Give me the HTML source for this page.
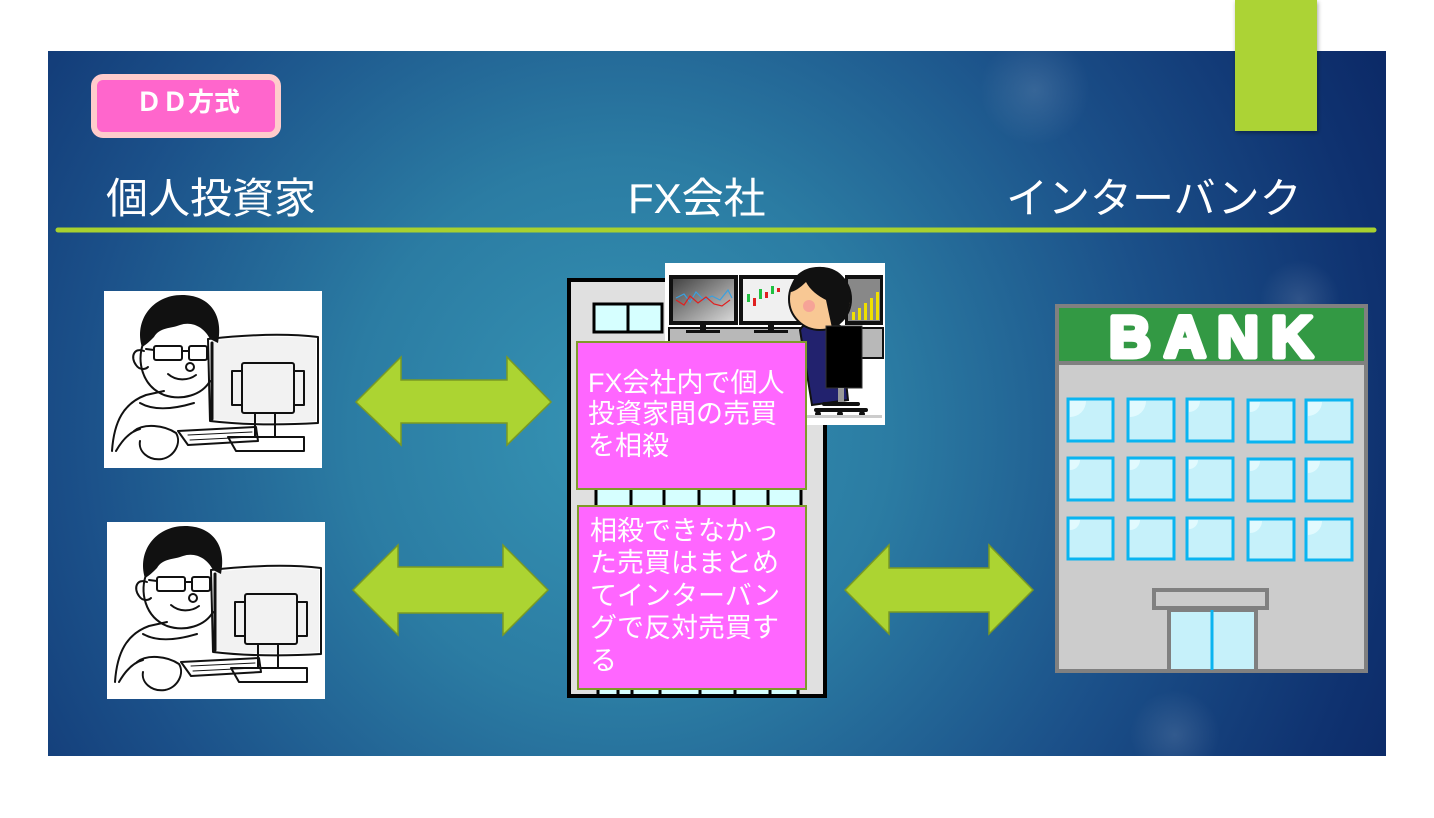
<!DOCTYPE html>
<html><head><meta charset="utf-8"><style>
html,body{margin:0;padding:0;background:#fff;}
svg{display:block;}
text{font-family:"Liberation Sans","Noto Sans CJK JP",sans-serif;}
</style></head><body>
<svg width="1434" height="818" viewBox="0 0 1434 818" xmlns="http://www.w3.org/2000/svg">
<defs>
<radialGradient id="bg" gradientUnits="userSpaceOnUse" cx="620" cy="430" r="900">
<stop offset="0" stop-color="#3694b4"/>
<stop offset="0.3" stop-color="#2b7ca3"/>
<stop offset="0.6" stop-color="#1b5089"/>
<stop offset="0.85" stop-color="#0f3270"/>
<stop offset="1" stop-color="#0a2562"/>
</radialGradient>
<radialGradient id="bok" cx="0.5" cy="0.5" r="0.5">
<stop offset="0" stop-color="#ffffff" stop-opacity="0.12"/>
<stop offset="1" stop-color="#ffffff" stop-opacity="0"/>
</radialGradient>
<linearGradient id="scr1" x1="0" y1="0" x2="1" y2="1">
<stop offset="0" stop-color="#444"/><stop offset="1" stop-color="#d8d8d8"/>
</linearGradient>
<filter id="sh" x="-20%" y="-20%" width="140%" height="140%"><feDropShadow dx="1" dy="2" stdDeviation="2" flood-opacity="0.35"/></filter>
</defs>

<!-- slide background -->
<rect x="48" y="51" width="1338" height="705" fill="url(#bg)"/>
<circle cx="1035" cy="90" r="55" fill="url(#bok)"/>
<circle cx="1175" cy="735" r="45" fill="url(#bok)"/>
<circle cx="1300" cy="300" r="40" fill="url(#bok)"/>

<!-- green tab -->
<rect x="1235" y="0" width="82" height="131" fill="#acd335" filter="url(#sh)"/>

<!-- DD label -->
<rect x="94" y="77" width="184" height="58" rx="9" fill="#ff66cc" stroke="#ffcccc" stroke-width="6"/>
<text x="188" y="111" font-size="26" font-weight="bold" fill="#fff" text-anchor="middle">ＤＤ方式</text>

<!-- headings -->
<text x="106" y="213" font-size="42" fill="#fff">個人投資家</text>
<text x="628" y="213" font-size="42" fill="#fff">FX会社</text>
<text x="1006" y="213" font-size="42" fill="#fff">インターバンク</text>
<line x1="58" y1="230" x2="1374" y2="230" stroke="#a8d12f" stroke-width="5" stroke-linecap="round"/>

<!-- arrows -->
<g fill="#acd432" stroke="#7a9a22" stroke-width="1.5" stroke-linejoin="miter">
<polygon points="356,402 401,357 401,380 507,380 507,357 551,402 507,445 507,423 401,423 401,445"/>
<polygon points="353,590 398,545 398,567 503,567 503,545 548,590 503,635 503,613 398,613 398,635"/>
<polygon points="845,590 889,545 889,568 989,568 989,545 1033,590 989,634 989,612 889,612 889,634"/>
</g>

<!-- person sketches -->
<g id="p1" transform="translate(104,291)">
<rect x="0" y="0" width="218" height="177" fill="#fff"/>
<g fill="none" stroke="#111" stroke-width="2" stroke-linecap="round" stroke-linejoin="round">
<!-- body -->
<path d="M8,160 C10,130 20,112 42,104 L60,100"/>
<path d="M36,112 C50,120 70,118 90,112"/>
<!-- face -->
<path d="M40,50 C32,70 38,95 60,104 C78,110 98,104 106,90"/>
<path d="M40,60 C30,56 26,66 32,74 C36,80 42,78 44,76"/>
<!-- glasses -->
<rect x="50" y="55" width="28" height="14" rx="2"/>
<rect x="85" y="55" width="18" height="14" rx="2"/>
<line x1="78" y1="60" x2="85" y2="60"/>
<line x1="50" y1="59" x2="42" y2="58"/>
<circle cx="86" cy="76" r="4"/>
<path d="M64,83 C72,90 84,90 92,84"/>
<!-- monitor -->
<path d="M104,48 C140,44 180,42 214,46 L214,132 C180,134 140,134 106,130 Z"/>
<path d="M108,52 L108,128" stroke-width="3"/>
<rect x="138" y="72" width="52" height="50" rx="2"/>
<rect x="128" y="80" width="10" height="34"/>
<rect x="190" y="80" width="10" height="34"/>
<rect x="151" y="122" width="20" height="24"/>
<path d="M124,146 L200,146 L200,160 L132,160 Z"/>
<!-- keyboard -->
<path d="M74,140 L152,136 L154,150 L84,154 Z"/>
<path d="M84,144 L148,141 M86,149 L148,146" stroke-width="1"/>
<!-- hand -->
<path d="M30,140 C40,132 60,134 72,142 C78,152 70,166 58,168 C44,170 34,160 36,150"/>
<path d="M12,160 C20,146 28,140 36,138"/>
</g>
<path d="M38,56 C30,30 48,4 78,4 C104,4 120,22 114,52 L106,48 C100,36 88,30 76,34 C66,38 56,36 50,46 C46,50 42,54 38,56 Z" fill="#111"/>
<path d="M108,50 C140,46 180,44 212,48 L212,130 C180,132 140,132 108,128 Z" fill="#000" opacity="0.05"/>
</g>
<use href="#p1" transform="translate(3,231)"/>

<!-- FX building -->
<rect x="569" y="280" width="256" height="416" fill="#e0e0e0" stroke="#000" stroke-width="4"/>
<rect x="594" y="304" width="68" height="28" fill="#d6ffff" stroke="#000" stroke-width="3"/>
<line x1="628" y1="304" x2="628" y2="332" stroke="#000" stroke-width="3"/>
<!-- window row between boxes -->
<rect x="596" y="486" width="206" height="22" fill="#d6ffff"/>
<g stroke="#000" stroke-width="3">
<line x1="596" y1="486" x2="596" y2="508"/><line x1="631" y1="486" x2="631" y2="508"/>
<line x1="664" y1="486" x2="664" y2="508"/><line x1="699" y1="486" x2="699" y2="508"/>
<line x1="734" y1="486" x2="734" y2="508"/><line x1="768" y1="486" x2="768" y2="508"/>
<line x1="801" y1="486" x2="801" y2="508"/>
</g>
<rect x="598" y="686" width="200" height="8" fill="#d6ffff"/>
<g stroke="#000" stroke-width="3">
<line x1="598" y1="686" x2="598" y2="694"/><line x1="618" y1="686" x2="618" y2="694"/>
<line x1="632" y1="686" x2="632" y2="694"/><line x1="660" y1="686" x2="660" y2="694"/>
<line x1="700" y1="686" x2="700" y2="694"/><line x1="735" y1="686" x2="735" y2="694"/>
<line x1="770" y1="686" x2="770" y2="694"/><line x1="798" y1="686" x2="798" y2="694"/>
</g>

<!-- trader picture -->
<rect x="665" y="263" width="220" height="162" fill="#fff"/>
<rect x="669" y="275" width="69" height="50" fill="#111"/>
<rect x="673" y="279" width="61" height="42" fill="url(#scr1)"/>
<polyline points="676,298 684,294 690,302 696,292 704,300 712,296 720,300 728,290 732,298" fill="none" stroke="#39a0e0" stroke-width="1.2"/>
<polyline points="676,300 684,305 690,296 698,303 706,297 714,304 722,306 730,300" fill="none" stroke="#e02020" stroke-width="1.2"/>
<rect x="739" y="275" width="62" height="50" fill="#111"/>
<rect x="743" y="279" width="58" height="42" fill="#f0f0f0"/>
<g stroke-width="1">
<rect x="747" y="294" width="3" height="8" fill="#20c040"/><rect x="753" y="298" width="3" height="8" fill="#e02020"/>
<rect x="759" y="289" width="3" height="10" fill="#20c040"/><rect x="765" y="292" width="3" height="6" fill="#e02020"/>
<rect x="771" y="286" width="3" height="8" fill="#20c040"/><rect x="777" y="288" width="3" height="4" fill="#e02020"/>
</g>
<rect x="845" y="275" width="38" height="50" fill="#111"/>
<rect x="848" y="279" width="32" height="42" fill="#888"/>
<g fill="#f0e000"><rect x="852" y="312" width="3" height="8"/><rect x="858" y="308" width="3" height="12"/><rect x="864" y="303" width="3" height="17"/><rect x="870" y="298" width="3" height="22"/><rect x="876" y="292" width="3" height="28"/></g>
<rect x="669" y="328" width="214" height="30" fill="#b8b8b8" stroke="#111" stroke-width="2"/>
<rect x="700" y="325" width="6" height="6" fill="#111"/><rect x="686" y="330" width="34" height="3" fill="#111"/>
<rect x="768" y="325" width="6" height="6" fill="#111"/><rect x="754" y="330" width="34" height="3" fill="#111"/>
<!-- person -->
<path d="M800,330 C805,320 825,318 840,326 L848,400 L812,405 Z" fill="#22226e" stroke="#111" stroke-width="2"/>
<circle cx="820" cy="299" r="31" fill="#f8c894" stroke="#111" stroke-width="2"/>
<path d="M790,292 C792,272 808,266 822,267 C842,268 852,284 850,302 C848,318 840,326 832,328 L826,300 C818,296 810,290 806,282 C800,288 794,292 790,292 Z" fill="#111"/>
<circle cx="809" cy="306" r="6" fill="#f58a9a" opacity="0.6"/>
<rect x="826" y="326" width="36" height="62" fill="#000" stroke="#333" stroke-width="1"/>
<rect x="838" y="388" width="6" height="16" fill="#999"/>
<path d="M816,410 L866,410 M824,404 L858,404" stroke="#111" stroke-width="4" stroke-linecap="round"/>
<circle cx="818" cy="414" r="3" fill="#111"/><circle cx="840" cy="414" r="3" fill="#111"/><circle cx="862" cy="414" r="3" fill="#111"/>
<rect x="790" y="415" width="92" height="3" fill="#ccc"/>

<!-- pink boxes -->
<rect x="577" y="342" width="229" height="147" fill="#ff66ff" stroke="#7f9a2a" stroke-width="2"/>
<g font-size="27" fill="#fff">
<text x="588" y="392">FX会社内で個人</text>
<text x="588" y="423">投資家間の売買</text>
<text x="588" y="455">を相殺</text>
</g>
<rect x="578" y="506" width="228" height="183" fill="#ff66ff" stroke="#7f9a2a" stroke-width="2"/>
<g font-size="27" fill="#fff">
<text x="590" y="540">相殺できなかっ</text>
<text x="590" y="572">た売買はまとめ</text>
<text x="590" y="605">てインターバン</text>
<text x="590" y="637">グで反対売買す</text>
<text x="590" y="670">る</text>
</g>

<!-- bank -->
<rect x="1057" y="306" width="309" height="365" fill="#cccccc" stroke="#808080" stroke-width="4"/>
<rect x="1059" y="308" width="305" height="54" fill="#339944"/>
<line x1="1059" y1="363" x2="1364" y2="363" stroke="#808080" stroke-width="4"/>
<g font-size="58" font-weight="bold" fill="#fff" stroke="#fff" stroke-width="5" stroke-linejoin="round" text-anchor="middle">
<text x="1130" y="357">B</text>
<text x="1185" y="357">A</text>
<text x="1238" y="357">N</text>
<text x="1292" y="357">K</text>
</g>
<g fill="#c6f1fa" stroke="#0ab4f0" stroke-width="3">
<rect x="1068" y="399" width="45" height="42"/><rect x="1128" y="399" width="46" height="42"/><rect x="1187" y="399" width="46" height="42"/><rect x="1248" y="400" width="46" height="42"/><rect x="1306" y="400" width="46" height="42"/>
<rect x="1068" y="458" width="45" height="42"/><rect x="1128" y="458" width="46" height="42"/><rect x="1187" y="458" width="46" height="42"/><rect x="1248" y="459" width="46" height="42"/><rect x="1306" y="459" width="46" height="42"/>
<rect x="1068" y="518" width="45" height="41"/><rect x="1128" y="518" width="46" height="41"/><rect x="1187" y="518" width="46" height="41"/><rect x="1248" y="519" width="46" height="41"/><rect x="1306" y="519" width="46" height="41"/>
</g>
<g fill="#e8fdff" opacity="0.8">
<path d="M1070,401 L1086,401 A16,16 0 0 1 1070,417 Z"/><path d="M1130,401 L1146,401 A16,16 0 0 1 1130,417 Z"/><path d="M1189,401 L1200,401 A11,11 0 0 1 1189,412 Z"/><path d="M1250,402 L1260,402 A10,10 0 0 1 1250,412 Z"/><path d="M1308,402 L1322,402 A14,14 0 0 1 1308,416 Z"/>
<path d="M1070,460 L1080,460 A10,10 0 0 1 1070,470 Z"/><path d="M1130,460 L1140,460 A10,10 0 0 1 1130,470 Z"/><path d="M1189,460 L1198,460 A9,9 0 0 1 1189,469 Z"/><path d="M1250,461 L1260,461 A10,10 0 0 1 1250,471 Z"/><path d="M1308,461 L1320,461 A12,12 0 0 1 1308,473 Z"/>
<path d="M1070,520 L1080,520 A10,10 0 0 1 1070,530 Z"/><path d="M1130,520 L1140,520 A10,10 0 0 1 1130,530 Z"/><path d="M1189,520 L1198,520 A9,9 0 0 1 1189,529 Z"/><path d="M1250,521 L1262,521 A12,12 0 0 1 1250,533 Z"/><path d="M1308,521 L1322,521 A14,14 0 0 1 1308,535 Z"/>
</g>
<rect x="1154" y="590" width="113" height="18" fill="#cccccc" stroke="#808080" stroke-width="4"/>
<rect x="1169" y="610" width="87" height="61" fill="#c6f1fa" stroke="#808080" stroke-width="4"/>
<line x1="1212" y1="610" x2="1212" y2="670" stroke="#0ab4f0" stroke-width="3"/>
</svg>
</body></html>
